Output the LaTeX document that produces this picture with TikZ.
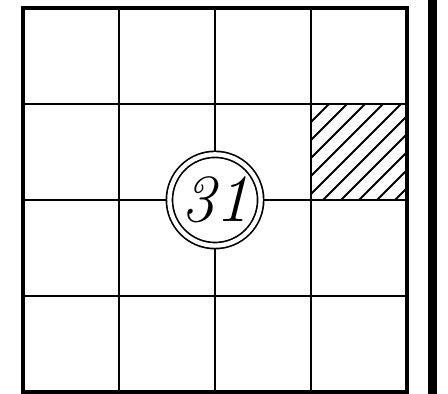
\documentclass[tikz,border=0pt]{standalone}
\usepackage{tikz}
\usetikzlibrary{positioning}
\tikzset{
  gline/.style ={line width=0.8pt, black},
  gframe/.style={line width=1pt, black},
  ghatch/.style={line width=0.6pt, black},
  gnum/.style  ={circle, draw, fill=white, line width=0.5pt, double, double distance=1.3pt,
                 minimum size=9.5mm, inner sep=0pt, font=\fontsize{20}{24}\selectfont\itshape},
  gbar/.style  ={fill=black},
}
\begin{document}
\begin{tikzpicture}
\useasboundingbox (-0.24,-0.02) rectangle (4.427,4.083);
% hatched cell
\begin{scope}
\clip (3,2) rectangle (4,3);
\foreach \s in {-1.0,-0.8125,...,1.2}
  \draw[ghatch] (3+\s,2) -- (4+\s,3);
\end{scope}
% grid
\draw[gline] (0,0) grid (4,4);
\draw[gframe] (0,0) rectangle (4,4);
% number in the middle
\node[gnum] (num) at (2,2) {31};
% bar on the right
\fill[gbar] (4.219,-0.02) rectangle (4.3125,4.083);
\end{tikzpicture}
\end{document}
